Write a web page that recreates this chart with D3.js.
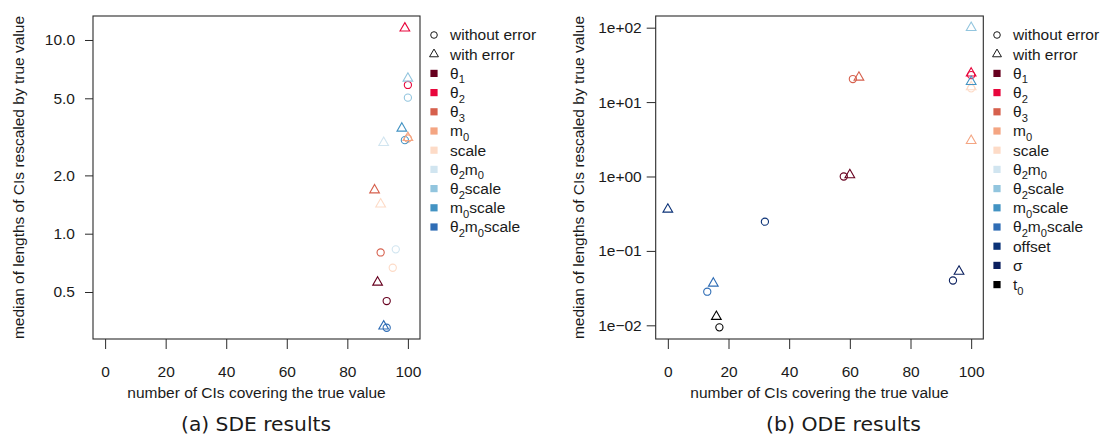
<!DOCTYPE html>
<html>
<head>
<meta charset="utf-8">
<script src="https://cdn.jsdelivr.net/npm/d3@7"></script>
<style>
  html, body { margin: 0; padding: 0; background: #fff; }
  svg { display: block; }
  text { font-family: "Liberation Sans", Arial, Helvetica, sans-serif; fill: #1a1a1a; }
  .caption { font-family: "DejaVu Sans", sans-serif; }
</style>
</head>
<body>
<svg id="chart" width="1107" height="439"></svg>
<script>
// ---------------- data ----------------
const params = ["θ1", "θ2", "θ3", "m0", "scale", "θ2m0", "θ2scale", "m0scale", "θ2m0scale", "offset", "σ", "t0"];
const paramLabels = ["θ_1", "θ_2", "θ_3", "m_0", "scale", "θ_2m_0", "θ_2scale", "m_0scale", "θ_2m_0scale", "offset", "σ", "t_0"];
const paramColors = ["#67001F", "#E8063C", "#D6604D", "#F4A582", "#FDDBC7", "#D1E5F0", "#92C5DE", "#4393C3", "#2F6DB5", "#0B3277", "#0A1F5E", "#000000"];

// SDE panel (first 9 parameters)
const sdeParams = ["θ1", "θ2", "θ3", "m0", "scale", "θ2m0", "θ2scale", "m0scale", "θ2m0scale"];
const sdeCoverageNoError = [93, 100, 91, 100, 95, 96, 100, 99, 93];
const sdeLengthNoError   = [0.449, 5.86, 0.80, 3.1, 0.667, 0.83, 5.04, 3.04, 0.327];
const sdeCoverageError   = [90, 99, 89, 100, 91, 92, 100, 98, 92];
const sdeLengthError     = [0.561, 11.5, 1.68, 3.13, 1.42, 2.95, 6.34, 3.50, 0.333];

// ODE panel (all 12 parameters; null = not visible in the figure)
const odeParams = params;
const odeCoverageNoError = [58, 100, 61, null, 100, null, null, null, 13, 32, 94, 17];
const odeLengthNoError   = [1.0, 23.0, 20.4, null, 15.3, null, null, null, 0.0283, 0.247, 0.040, 0.0094];
const odeCoverageError   = [60, 100, 63, 100, 100, null, 100, 100, 15, 0, 96, 16];
const odeLengthError     = [1.05, 24.4, 21.5, 3.03, 16.0, null, 100, 18.8, 0.0367, 0.362, 0.053, 0.0131];

const xTicks = [0, 20, 40, 60, 80, 100];
const sdeYTicks = [0.5, 1, 2, 5, 10];
const sdeYTickLabels = ["0.5", "1.0", "2.0", "5.0", "10.0"];
const odeYTicks = [0.01, 0.1, 1, 10, 100];
const odeYTickLabels = ["1e\u221202", "1e\u221201", "1e+00", "1e+01", "1e+02"];

const symbolLabels = ["without error", "with error"];
const xTitle = "number of CIs covering the true value";
const yTitle = "median of lengths of CIs rescaled by true value";
const captions = ["(a) SDE results", "(b) ODE results"];

// ---------------- drawing ----------------
const svg = d3.select("#chart");
const colorOf = d3.scaleOrdinal().domain(params).range(paramColors);
const FS = 15.5;

function triPath(r) {
  const top = 1.5551 * r, hx = 1.3468 * r, by = 0.7776 * r;
  return `M0,${-top}L${hx},${by}L${-hx},${by}Z`;
}

function addLabel(sel, label, fs) {
  const parts = label.split(/_(\d)/);
  parts.forEach((p, i) => {
    if (p === "") return;
    if (i % 2 === 1) {
      sel.append("tspan").attr("font-size", fs * 0.72).attr("dy", fs * 0.3).text(p);
    } else {
      const t = sel.append("tspan").text(p);
      if (i > 0) t.attr("dy", -fs * 0.3);
    }
  });
}

function panel(cfg) {
  const g = svg.append("g");
  const x = d3.scaleLinear().domain([-4, 104]).range([cfg.left, cfg.right]);
  const y = d3.scaleLog().domain(cfg.yDomain).range([cfg.bottom, cfg.top]);

  // box
  g.append("rect").attr("x", cfg.left).attr("y", cfg.top)
    .attr("width", cfg.right - cfg.left).attr("height", cfg.bottom - cfg.top)
    .attr("fill", "none").attr("stroke", "#2a2a2a").attr("stroke-width", 1.1);

  // y axis
  const ya = g.append("g").attr("transform", `translate(${cfg.left},0)`)
    .call(d3.axisLeft(y).tickValues(cfg.yTicks).tickFormat((d, i) => cfg.yTickLabels[i])
      .tickSize(cfg.yTickSize).tickPadding(cfg.yTickPad));
  ya.select(".domain").remove();
  ya.selectAll("line").attr("stroke", "#2a2a2a");
  ya.selectAll("text").attr("font-size", FS).attr("fill", "#1a1a1a").attr("font-family", null);

  // x axis
  const xa = g.append("g").attr("transform", `translate(0,${cfg.bottom})`)
    .call(d3.axisBottom(x).tickValues(xTicks).tickSize(10));
  xa.select(".domain").remove();
  xa.selectAll("line").attr("stroke", "#2a2a2a");
  xa.selectAll("text").attr("font-size", FS).attr("fill", "#1a1a1a").attr("font-family", null)
    .attr("y", 37.5).attr("dy", 0);

  // titles
  g.append("text").attr("x", (x(0) + x(100)) / 2).attr("y", 397.5)
    .attr("text-anchor", "middle").attr("font-size", FS).text(xTitle);
  g.append("text").attr("transform", `translate(${cfg.yTitleX},${(cfg.top + cfg.bottom) / 2}) rotate(-90)`)
    .attr("text-anchor", "middle").attr("font-size", FS).text(yTitle);
  g.append("text").attr("class", "caption").attr("x", cfg.captionX).attr("y", 431)
    .attr("text-anchor", "middle").attr("font-size", 20)
    .attr("textLength", cfg.captionW).attr("lengthAdjust", "spacingAndGlyphs").text(cfg.caption);

  // points: circles (without error) then triangles (with error)
  const r = 3.6;
  const circ = cfg.params.map((p, i) => ({p, c: cfg.covNo[i], l: cfg.lenNo[i]})).filter(d => d.c !== null && d.l !== null);
  const tri = cfg.params.map((p, i) => ({p, c: cfg.covEr[i], l: cfg.lenEr[i]})).filter(d => d.c !== null && d.l !== null);
  g.selectAll(".pc").data(circ).join("circle")
    .attr("cx", d => x(d.c)).attr("cy", d => y(d.l)).attr("r", r)
    .attr("fill", "none").attr("stroke", d => colorOf(d.p)).attr("stroke-width", 1.1);
  g.selectAll(".pt").data(tri).join("path")
    .attr("transform", d => `translate(${x(d.c)},${y(d.l)})`).attr("d", triPath(r))
    .attr("fill", "none").attr("stroke", d => colorOf(d.p)).attr("stroke-width", 1.1);

  // legend
  const lg = g.append("g");
  const rowH = 19.2;
  const lx = cfg.legendX;
  lg.append("circle").attr("cx", lx).attr("cy", 35).attr("r", 3.3)
    .attr("fill", "none").attr("stroke", "#1a1a1a").attr("stroke-width", 1);
  lg.append("path").attr("transform", `translate(${lx},${35 + rowH})`).attr("d", triPath(3.3))
    .attr("fill", "none").attr("stroke", "#1a1a1a").attr("stroke-width", 1);
  symbolLabels.forEach((s, i) => {
    lg.append("text").attr("x", lx + 16).attr("y", 35 + i * rowH).attr("dy", "0.35em")
      .attr("font-size", FS).text(s);
  });
  cfg.params.forEach((p, i) => {
    const yy = 35 + (i + 2) * rowH;
    lg.append("rect").attr("x", lx - 3.6).attr("y", yy - 3.6).attr("width", 7.2).attr("height", 7.2)
      .attr("fill", colorOf(p));
    const t = lg.append("text").attr("x", lx + 16).attr("y", yy).attr("dy", "0.35em").attr("font-size", FS);
    addLabel(t, paramLabels[params.indexOf(p)], FS);
  });
}

panel({
  left: 93, right: 420, top: 16, bottom: 339,
  yDomain: [0.286, 13.3], yTicks: sdeYTicks, yTickLabels: sdeYTickLabels,
  yTickSize: 8, yTickPad: 10, yTitleX: 24, captionX: 256, captionW: 150, caption: captions[0],
  params: sdeParams, covNo: sdeCoverageNoError, lenNo: sdeLengthNoError,
  covEr: sdeCoverageError, lenEr: sdeLengthError, legendX: 434
});
panel({
  left: 655.7, right: 983.3, top: 16, bottom: 339,
  yDomain: [0.00655, 143.5], yTicks: odeYTicks, yTickLabels: odeYTickLabels,
  yTickSize: 9, yTickPad: 5, yTitleX: 584, captionX: 843.5, captionW: 155, caption: captions[1],
  params: odeParams, covNo: odeCoverageNoError, lenNo: odeLengthNoError,
  covEr: odeCoverageError, lenEr: odeLengthError, legendX: 997
});
</script>
</body>
</html>
